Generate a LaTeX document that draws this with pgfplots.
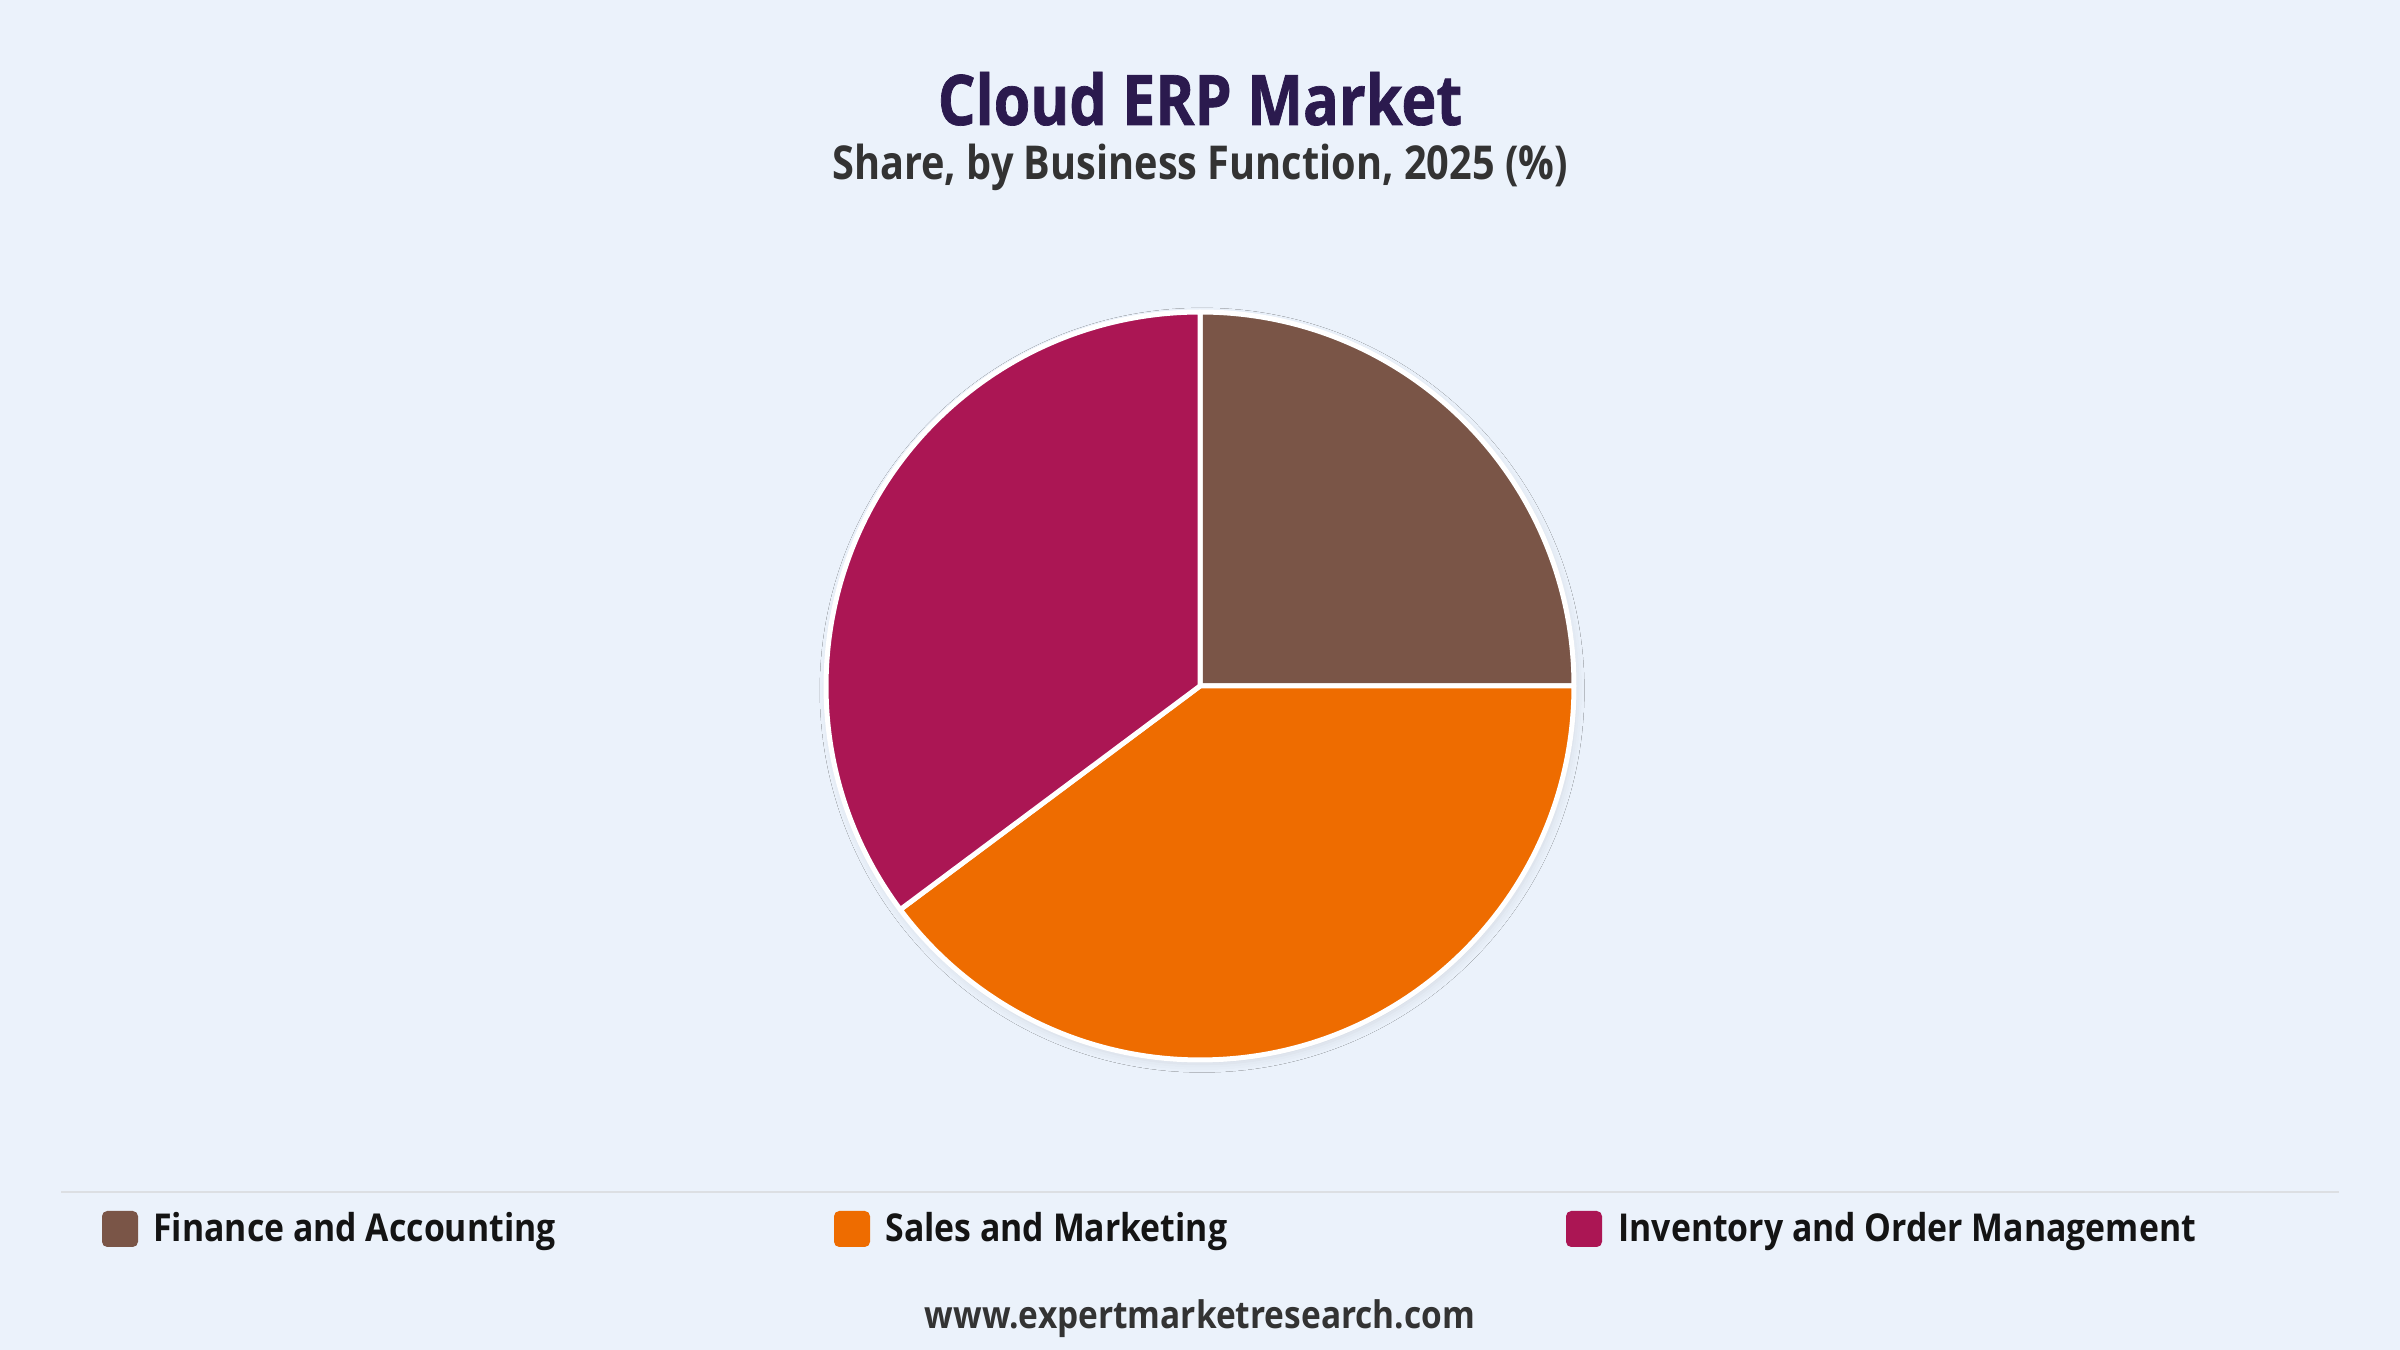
\documentclass[border=0pt]{standalone}
\usepackage{fontspec}
\usepackage{pgfplots}
\usepackage{pgfplotstable}
\pgfplotsset{compat=1.18}
\usetikzlibrary{shadows.blur}

\newfontfamily\emr{Open Sans}[FakeStretch=0.85]
\newfontfamily\emrleg{Open Sans}[FakeStretch=0.88]
\newfontfamily\emrfoot{Open Sans}[FakeStretch=0.88]
\newfontfamily\emrtitle{Open Sans}[FakeStretch=0.85, BoldFeatures={FakeBold=1.0}]

\definecolor{bgc}{HTML}{EBF2FB}
\definecolor{titlec}{HTML}{2B1A4E}
\definecolor{subc}{HTML}{333333}
\definecolor{legc}{HTML}{141414}
\definecolor{sepc}{HTML}{DCDFE3}
\definecolor{fin}{HTML}{7A5547}
\definecolor{sales}{HTML}{EE6C00}
\definecolor{inv}{HTML}{AB1654}

% share by business function, 2025 (%)
\pgfplotstableread[col sep=comma]{
label,share
Finance and Accounting,25.0
Sales and Marketing,39.8
Inventory and Order Management,35.2
}\pietable

\begin{document}
\begin{tikzpicture}[x=0.48bp, y=0.48bp]
  % canvas 2400 x 1350 px, y measured upwards
  \fill[bgc] (0,0) rectangle (2400,1350);

  \node[anchor=base, text=titlec, font=\emrtitle\bfseries\fontsize{33.6}{40}\selectfont]
    at (1200,1225) {Cloud ERP Market};
  \node[anchor=base, text=subc, font=\emr\bfseries\fontsize{22.5}{27}\selectfont]
    at (1200,1170) {Share, by Business Function, 2025 (\%)};

  % slice angles, clockwise from 12 o'clock
  \pgfplotstablegetelem{0}{share}\of\pietable \let\sA\pgfplotsretval
  \pgfplotstablegetelem{1}{share}\of\pietable \let\sB\pgfplotsretval
  \pgfplotstablegetelem{2}{share}\of\pietable \let\sC\pgfplotsretval
  \pgfmathsetmacro\tot{\sA+\sB+\sC}
  \pgfmathsetmacro\aA{90}
  \pgfmathsetmacro\aB{\aA-360*\sA/\tot}
  \pgfmathsetmacro\aC{\aB-360*\sB/\tot}
  \pgfmathsetmacro\aD{\aC-360*\sC/\tot}
  \def\R{179.5bp}

  \coordinate (pc) at (1200,664);
  \begin{axis}[
      at={(pc)}, anchor=center,
      hide axis, scale only axis, clip=false,
      width=359bp, height=359bp,
      xmin=-1, xmax=1, ymin=-1, ymax=1,
    ]
    \fill[white, blur shadow={shadow xshift=1bp, shadow yshift=-2bp,
      shadow blur radius=4bp, shadow opacity=10}]
      (axis cs:0,0) circle[radius=\R];
    \filldraw[fill=fin, draw=white, line width=2.4bp, line join=round]
      (axis cs:0,0) -- ++(\aA:\R) arc[start angle=\aA, end angle=\aB, radius=\R] -- cycle;
    \filldraw[fill=sales, draw=white, line width=2.4bp, line join=round]
      (axis cs:0,0) -- ++(\aB:\R) arc[start angle=\aB, end angle=\aC, radius=\R] -- cycle;
    \filldraw[fill=inv, draw=white, line width=2.4bp, line join=round]
      (axis cs:0,0) -- ++(\aC:\R) arc[start angle=\aC, end angle=\aD, radius=\R] -- cycle;
  \end{axis}

  % legend
  \draw[sepc, line width=1.4bp] (61,158) -- (2339,158);
  \pgfplotstablegetelem{0}{label}\of\pietable \let\lA\pgfplotsretval
  \pgfplotstablegetelem{1}{label}\of\pietable \let\lB\pgfplotsretval
  \pgfplotstablegetelem{2}{label}\of\pietable \let\lC\pgfplotsretval
  \fill[fin, rounded corners=2.5bp] (102,103) rectangle (138,139);
  \node[anchor=base west, inner sep=0pt, text=legc, font=\emrleg\bfseries\fontsize{18.5}{22}\selectfont]
    at (153,108) {\lA};
  \fill[sales, rounded corners=2.5bp] (834,103) rectangle (870,139);
  \node[anchor=base west, inner sep=0pt, text=legc, font=\emrleg\bfseries\fontsize{18.5}{22}\selectfont]
    at (885,108) {\lB};
  \fill[inv, rounded corners=2.5bp] (1566,103) rectangle (1602,139);
  \node[anchor=base west, inner sep=0pt, text=legc, font=\emrleg\bfseries\fontsize{18.5}{22}\selectfont]
    at (1618,108) {\lC};

  \node[anchor=base, text=subc, font=\emrfoot\bfseries\fontsize{18.3}{22}\selectfont]
    at (1200,21) {www.expertmarketresearch.com};
\end{tikzpicture}
\end{document}
